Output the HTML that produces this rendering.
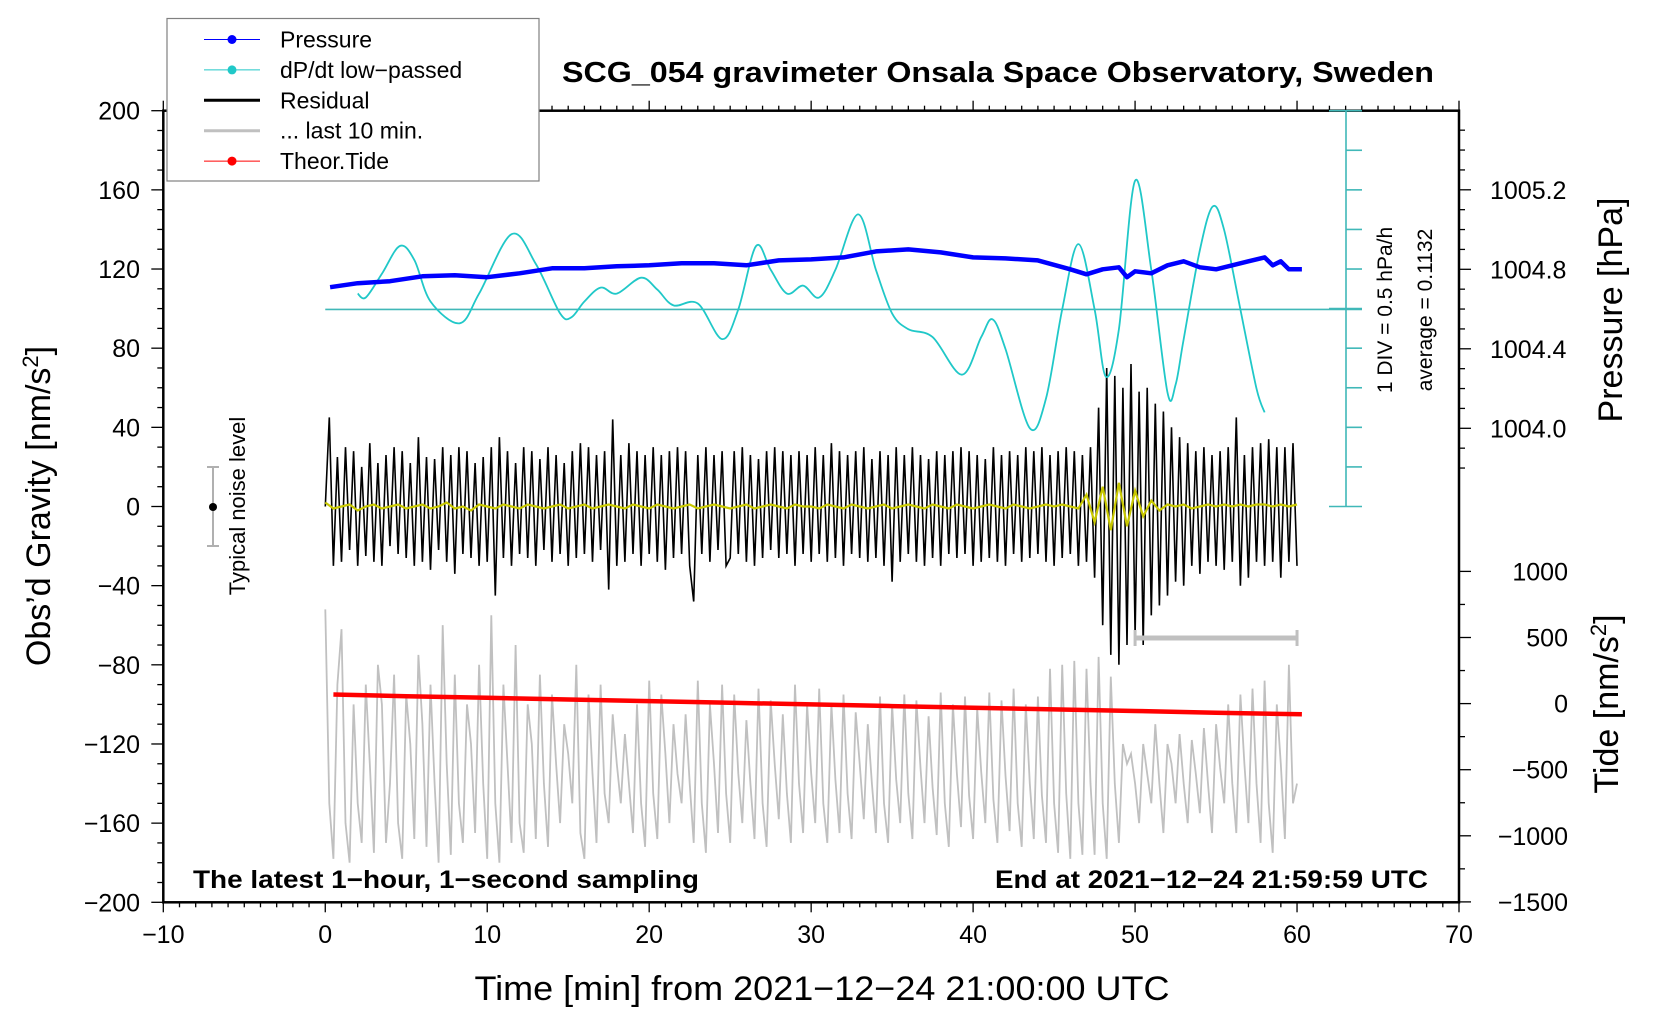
<!DOCTYPE html>
<html><head><meta charset="utf-8"><style>
html,body{margin:0;padding:0;background:#fff;}
svg{display:block;font-family:"Liberation Sans",sans-serif;}
</style></head><body>
<svg id="chart" width="1660" height="1020" viewBox="0 0 1660 1020" xmlns="http://www.w3.org/2000/svg">
<g id="marks"></g>
<g id="axes"></g>
</svg>
<script>
const timesPressure=[0.3,2,4,6,8,10,12,14,16,18,20,22,24,26,28,30,32,34,36,38,40,42,44,46,47,48,49,49.5,50,51,52,53,54,55,56,57,58,58.5,59,59.5,60.3];
const pressureHpa=[1004.71,1004.73,1004.74,1004.765,1004.77,1004.76,1004.78,1004.805,1004.805,1004.815,1004.82,1004.83,1004.83,1004.82,1004.845,1004.85,1004.86,1004.89,1004.90,1004.885,1004.86,1004.855,1004.845,1004.80,1004.775,1004.80,1004.81,1004.76,1004.79,1004.78,1004.82,1004.84,1004.81,1004.80,1004.82,1004.84,1004.86,1004.82,1004.84,1004.80,1004.80];
const timesDpdt=[2.0,2.5,3.5,4.6,5.5,6.5,8.3,9.5,11.5,13,14.5,15.2,16,17,18,19.5,20.5,21.5,23,24.5,25.5,26.6,27.5,28.5,29.5,30.5,31.5,32.9,34,35,36,37.5,39.3,40.5,41.2,42,43.5,44.5,45.5,46.5,47.5,48.2,49,50,51,52,52.5,53,54,54.8,55.5,56.5,57.5,58];
const dpdtHpaH=[0.2,0.15,0.45,0.8,0.625,0.1,-0.175,0.2,0.95,0.575,-0.05,-0.1,0.1,0.275,0.2,0.4,0.25,0.05,0.075,-0.375,0,0.8,0.5,0.2,0.3,0.15,0.5,1.2,0.5,-0.05,-0.25,-0.35,-0.825,-0.35,-0.125,-0.5,-1.5,-1.125,0,0.825,0,-0.85,-0.25,1.625,0.5,-1.05,-0.95,-0.375,0.75,1.3,1.0,0,-1.0,-1.3];
const residual=[
0,45,-30,25,-28,30,-22,28,-30,20,
-25,32,-28,22,-30,26,-20,30,-24,28,
-26,22,-30,35,-28,25,-32,24,-22,30,
-28,26,-34,30,-24,28,-26,22,-30,25,
-28,30,-45,35,-26,28,-30,22,-24,30,
-26,28,-30,24,-22,30,-28,26,-24,22,
-30,28,-26,32,-24,30,-28,26,-22,28,
-42,44,-30,26,-28,32,-24,28,-30,26,
-24,30,-28,26,-32,28,-26,30,-24,28,
-30,-48,26,-24,30,-28,26,-22,28,-30,
-26,28,-24,30,-28,26,-30,24,-26,28,
-22,30,-26,28,-24,26,-30,28,-24,26,
-28,30,-24,26,-28,32,-26,28,-30,26,
-24,28,-26,30,-28,24,-26,28,-30,26,
-38,30,-28,26,-24,30,-28,26,-30,24,
-26,28,-30,26,-24,28,-26,30,-24,28,
-30,26,-28,24,-26,30,-28,26,-30,28,
-24,26,-28,30,-26,28,-24,30,-28,26,
-30,28,-26,30,-24,28,-30,26,-28,30,
-36,50,-60,70,-75,66,-80,60,-70,72,
-65,58,-70,60,-55,52,-50,48,-45,40,
-38,35,-40,32,-30,28,-34,30,-28,26,
-30,28,-32,30,-28,45,-40,26,-36,30,
-28,32,-30,34,-28,30,-36,30,-28,32,
-30];
const last10=[
-52,-150,-178,-90,-62,-160,-180,-100,-150,-170,
-90,-130,-175,-80,-100,-170,-140,-85,-160,-178,
-95,-120,-168,-75,-110,-172,-90,-140,-180,-60,
-130,-176,-85,-150,-170,-100,-120,-165,-80,-140,
-178,-55,-150,-180,-90,-130,-170,-70,-160,-175,
-100,-120,-168,-85,-140,-172,-95,-130,-160,-110,
-125,-150,-80,-165,-178,-95,-135,-170,-90,-145,
-160,-105,-130,-150,-115,-140,-165,-100,-150,-172,
-88,-145,-168,-95,-125,-160,-110,-135,-150,-105,
-140,-170,-88,-150,-175,-100,-130,-165,-90,-145,
-170,-95,-135,-160,-108,-140,-168,-92,-150,-172,
-98,-130,-158,-105,-145,-170,-90,-140,-165,-100,
-135,-160,-92,-150,-170,-100,-138,-165,-95,-145,
-168,-104,-130,-158,-110,-140,-165,-96,-150,-170,
-100,-138,-160,-95,-145,-168,-98,-132,-160,-106,
-142,-166,-94,-150,-172,-100,-135,-162,-96,-146,
-168,-102,-134,-160,-94,-148,-170,-98,-136,-164,
-92,-150,-172,-100,-140,-168,-96,-146,-170,-82,
-150,-175,-80,-145,-178,-78,-150,-176,-82,-140,
-176,-76,-150,-178,-86,-140,-170,-120,-130,-125,
-140,-160,-120,-135,-150,-110,-140,-165,-120,-130,
-150,-115,-140,-160,-118,-135,-155,-112,-140,-165,
-110,-132,-150,-100,-140,-165,-95,-130,-160,-92,
-140,-170,-88,-150,-175,-100,-130,-168,-80,-150,
-140];
const smoothed=[2,-1,0,1,-2,0,1,-1,0,1,
-1,0,1,-1,0,2,-1,0,-2,1,
0,-1,1,0,-1,1,0,-1,0,1,
-1,0,1,-1,0,1,0,-1,1,0,
-1,1,0,-1,0,1,-1,0,1,0,
-1,0,1,-1,0,1,0,-1,1,0,
0,-1,1,0,-1,1,0,-1,0,1,
-1,0,1,0,-1,1,0,-1,1,0,
-1,0,1,0,-1,1,0,-1,0,1,
0,1,0,-1,6,-8,10,-12,12,-10,
8,-5,3,-2,1,0,1,-1,0,1,
0,1,0,1,0,1,1,0,1,0,
1];
const timesTide=[0.5,5,10,15,20,25,30,35,40,45,50,55,60.3];
const tideNms2=[69,56,44,31,19,6,-6,-19,-31,-44,-56,-69,-81];
const xTicks=[-10,0,10,20,30,40,50,60,70];
const yTicks=[-200,-160,-120,-80,-40,0,40,80,120,160,200];
const pTicks=[1004.0,1004.4,1004.8,1005.2];
const tideTicks=[-1500,-1000,-500,0,500,1000];

const NS="http://www.w3.org/2000/svg";
const L=163.3,R=1459,T=110.7,B=902.3;
const X=t=>L+(t+10)*(R-L)/80;
const Y=g=>B-(g+200)*(B-T)/400;
const YP=p=>269.3-(p-1004.8)*198.75;
const YD=d=>309.4-d*79.2;
const YT=v=>703.6-v*0.1322;
const marks=document.getElementById('marks'),axes=document.getElementById('axes');
function mk(tag,attrs,parent){const e=document.createElementNS(NS,tag);for(const k in attrs)e.setAttribute(k,attrs[k]);(parent||marks).appendChild(e);return e;}
function pathFrom(xs,ys){return xs.map((x,i)=>(i?'L':'M')+x.toFixed(1)+' '+ys[i].toFixed(1)).join(' ');}
const tStep=i=>i*0.25;

let e=mk('path',{d:pathFrom(last10.map((v,i)=>X(tStep(i))),last10.map(v=>Y(v))),fill:'none',stroke:'#c0c0c0','stroke-width':1.8});


e=mk('path',{d:pathFrom(residual.map((v,i)=>X(tStep(i))),residual.map(v=>Y(v))),fill:'none',stroke:'#000','stroke-width':1.6});


e=mk('path',{d:pathFrom(smoothed.map((v,i)=>X(i*0.5)),smoothed.map(v=>Y(v))),fill:'none',stroke:'#c8c800','stroke-width':2.2});


e=mk('line',{x1:X(0),x2:1362,y1:YD(0),y2:YD(0),stroke:'#40b8b8','stroke-width':1.6});


(function(){const xs=timesDpdt.map(X),ys=dpdtHpaH.map(YD);let d='M'+xs[0]+' '+ys[0];
for(let i=0;i<xs.length-1;i++){const x0=xs[Math.max(0,i-1)],y0=ys[Math.max(0,i-1)],x1=xs[i],y1=ys[i],x2=xs[i+1],y2=ys[i+1],x3=xs[Math.min(xs.length-1,i+2)],y3=ys[Math.min(xs.length-1,i+2)];
d+=` C${(x1+(x2-x0)/6).toFixed(1)} ${(y1+(y2-y0)/6).toFixed(1)} ${(x2-(x3-x1)/6).toFixed(1)} ${(y2-(y3-y1)/6).toFixed(1)} ${x2.toFixed(1)} ${y2.toFixed(1)}`;}
e=mk('path',{d:d,fill:'none',stroke:'#20c8c8','stroke-width':1.8});

})();
e=mk('path',{d:pathFrom(timesPressure.map(X),pressureHpa.map(YP)),fill:'none',stroke:'#0000ff','stroke-width':4.5,'stroke-linejoin':'round'});


e=mk('path',{d:pathFrom(timesTide.map(X),tideNms2.map(YT)),fill:'none',stroke:'#ff0000','stroke-width':4.5});



e=mk('rect',{x:L,y:T,width:R-L,height:B-T,fill:'none',stroke:'#000','stroke-width':2.5},axes);


function txt(s,attrs,name){const t=mk('text',attrs,axes);t.textContent=s;return t;}
for(let m=-10;m<=70;m++){const maj=m%10===0;mk('line',{x1:X(m),x2:X(m),y1:B,y2:B+(maj?10:5),stroke:'#000','stroke-width':1.3},axes);mk('line',{x1:X(m),x2:X(m),y1:T,y2:T-(maj?10:5),stroke:'#000','stroke-width':1.3},axes);}
xTicks.forEach(v=>txt(String(v).replace('-','\u2212'),{x:X(v),y:943,'font-size':25,'text-anchor':'middle'},'x-tick-label'));
for(let g=-200;g<=200;g+=10){const maj=g%40===0;mk('line',{x1:L,x2:L-(maj?12:6),y1:Y(g),y2:Y(g),stroke:'#000','stroke-width':1.3},axes);}
yTicks.forEach(v=>txt(String(v).replace('-','\u2212'),{x:140,y:Y(v)+9,'font-size':25,'text-anchor':'end'},'y-tick-label'));
for(let p=1003.8;p<=1005.6;p+=0.1){const y=YP(p);if(y<T-1||y>545)continue;const maj=Math.abs(Math.round(p*10)%4)<0.01;mk('line',{x1:R,x2:R+(maj?12:6),y1:y,y2:y,stroke:'#000','stroke-width':1.3},axes);}
pTicks.forEach(v=>txt(v.toFixed(1),{x:1490,y:YP(v)+9,'font-size':25},'pressure-tick-label'));
for(let v=-1500;v<=1000;v+=250){const maj=v%500===0;mk('line',{x1:R,x2:R+(maj?12:6),y1:YT(v),y2:YT(v),stroke:'#000','stroke-width':1.3},axes);}
tideTicks.forEach(v=>txt(String(v).replace('-','\u2212'),{x:1568,y:YT(v)+9,'font-size':25,'text-anchor':'end'},'tide-tick-label'));
mk('line',{x1:1346,x2:1346,y1:T,y2:Y(0),stroke:'#40b8b8','stroke-width':1.6},axes);
for(let k=0;k<=10;k++){const y=T+k*(Y(0)-T)/10;const cap=(k===0||k===10||k===5);mk('line',{x1:cap?1329:1346,x2:1362,y1:y,y2:y,stroke:'#40b8b8','stroke-width':1.6},axes);}
txt('1 DIV = 0.5 hPa/h',{transform:'translate(1392,310) rotate(-90)','font-size':21,'text-anchor':'middle'},'dpdt-scale-label');
txt('average = 0.1132',{transform:'translate(1432,310) rotate(-90)','font-size':21,'text-anchor':'middle'},'dpdt-average-label');
mk('line',{x1:213,x2:213,y1:467,y2:546,stroke:'#b0b0b0','stroke-width':2},axes);
mk('line',{x1:207,x2:219,y1:467,y2:467,stroke:'#b0b0b0','stroke-width':2},axes);
mk('line',{x1:207,x2:219,y1:546,y2:546,stroke:'#b0b0b0','stroke-width':2},axes);
mk('circle',{cx:213,cy:507,r:4,fill:'#000'},axes);
txt('Typical noise level',{transform:'translate(245,506) rotate(-90)','font-size':22,'text-anchor':'middle'},'noise-level-label');
mk('line',{x1:X(50),x2:X(60),y1:638,y2:638,stroke:'#c0c0c0','stroke-width':5},axes);
mk('line',{x1:X(50),x2:X(50),y1:630,y2:646,stroke:'#c0c0c0','stroke-width':3},axes);
mk('line',{x1:X(60),x2:X(60),y1:630,y2:646,stroke:'#c0c0c0','stroke-width':3},axes);
txt('SCG_054 gravimeter Onsala Space Observatory, Sweden',{x:998,y:82,'font-size':29,'font-weight':'bold','text-anchor':'middle',textLength:872,lengthAdjust:'spacingAndGlyphs'},'chart-title');
txt('The latest 1\u2212hour, 1\u2212second sampling',{x:193,y:888,'font-size':25,'font-weight':'bold',textLength:506,lengthAdjust:'spacingAndGlyphs'},'sampling-note');
txt('End at 2021\u221212\u221224 21:59:59 UTC',{x:1428,y:888,'font-size':25,'font-weight':'bold','text-anchor':'end',textLength:433,lengthAdjust:'spacingAndGlyphs'},'end-time-note');
txt('Time [min] from 2021\u221212\u221224 21:00:00 UTC',{x:822,y:1000,'font-size':34,'text-anchor':'middle',textLength:695,lengthAdjust:'spacingAndGlyphs'},'x-axis-title');
const yl=txt('',{transform:'translate(50,506) rotate(-90)','font-size':34,'text-anchor':'middle'},'y-axis-title');
yl.innerHTML='Obs\u2019d Gravity [nm/s<tspan dy="-12" font-size="22">2</tspan><tspan dy="12">]</tspan>';
txt('Pressure [hPa]',{transform:'translate(1622,310) rotate(-90)','font-size':34,'text-anchor':'middle'},'pressure-axis-title');
const tl=txt('',{transform:'translate(1618,704) rotate(-90)','font-size':34,'text-anchor':'middle'},'tide-axis-title');
tl.innerHTML='Tide [nm/s<tspan dy="-12" font-size="22">2</tspan><tspan dy="12">]</tspan>';
const lg=mk('g',{},axes);


mk('rect',{x:167,y:18.5,width:372,height:162.5,fill:'#fff',stroke:'#808080','stroke-width':1.2},lg);
const legNames=['Pressure','dP/dt low\u2212passed','Residual','... last 10 min.','Theor.Tide'];
const legColors=['#0000ff','#20c8c8','#000000','#c0c0c0','#ff0000'];
const legDot=[true,true,false,false,true];
legNames.forEach((n,i)=>{const y=39.5+i*30.4;
 mk('line',{x1:204,x2:260,y1:y,y2:y,stroke:legColors[i],'stroke-width':legDot[i]?1:3},lg);
 if(legDot[i])mk('circle',{cx:232,cy:y,r:4.5,fill:legColors[i]},lg);
 const t=mk('text',{x:280,y:y+8,'font-size':23},lg);t.textContent=n;
 
 });
</script>
</body></html>
